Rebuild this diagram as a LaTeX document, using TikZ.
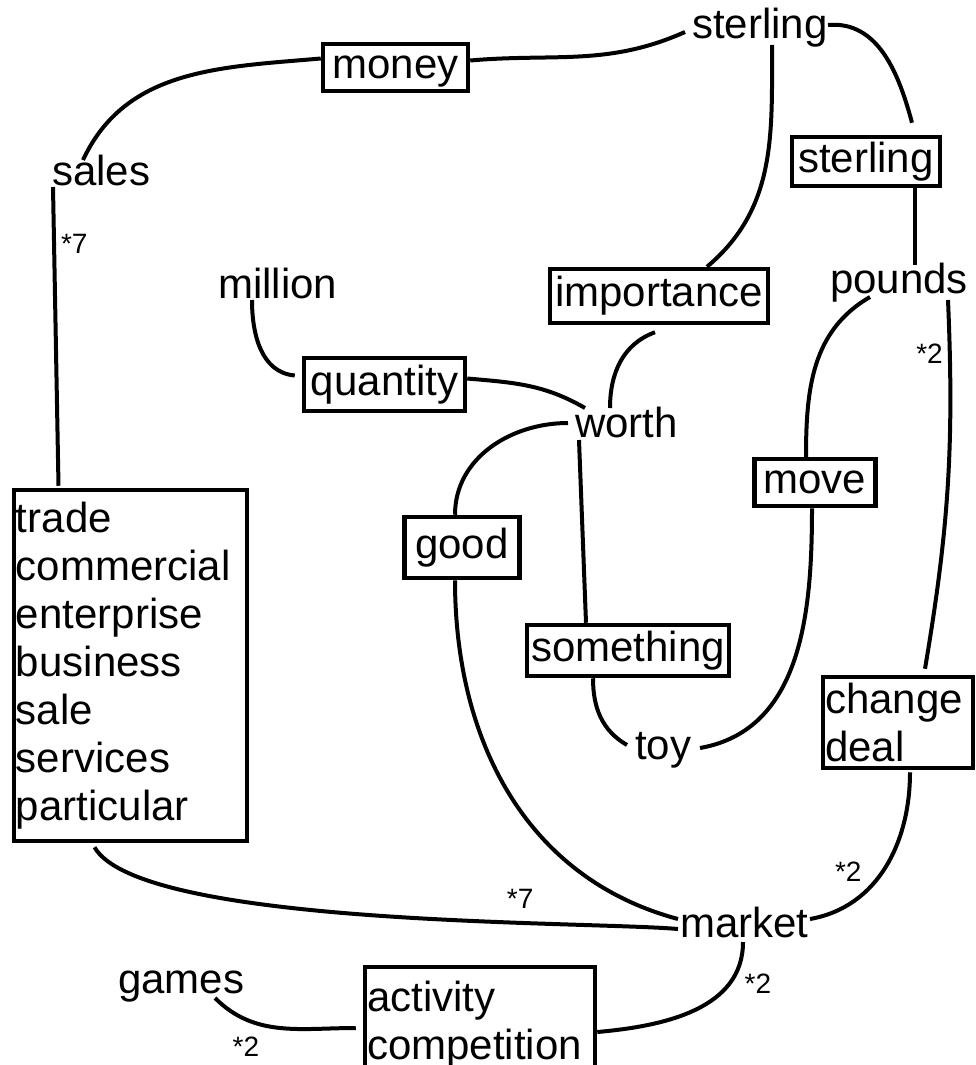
\documentclass[tikz,border=0pt]{standalone}
\usepackage{fontspec}
\setmainfont{Liberation Sans}

\begin{document}
\begin{tikzpicture}[x=1pt,y=-1pt,
		word/.style={font=\fontsize{42}{48}\selectfont, inner sep=0pt, anchor=base west},
		sense/.style={draw, line width=4.5pt, font=\fontsize{42}{48}\selectfont, inner xsep=2pt, inner ysep=0pt},
		single/.style={sense, text height=30pt, text depth=9pt},
		multi/.style={sense, align=left},
		link/.style={line width=4pt},
		count/.style={font=\fontsize{28}{30}\selectfont, inner sep=5pt}]
			\useasboundingbox (0,0) rectangle (976,1065);
			\clip (0,0) rectangle (976,1065);
			\node[word] (sterling) at (692,38) {sterling};
			\node[word] (sales) at (52,185) {sales};
			\node[word] (million) at (218,298) {million};
			\node[word] (pounds) at (830,293) {pounds};
			\node[word] (worth) at (575,437) {worth};
			\node[word] (toy) at (635,759) {toy};
			\node[word] (market) at (680,937) {market};
			\node[word] (games) at (118,993) {games};
			\node[single, minimum width=145pt, minimum height=47pt] (money) at (395.5,67.5) {money};
			\node[single, minimum width=148pt, minimum height=49pt] (sterlingbox) at (866,161.5) {sterling};
			\node[single, minimum width=218pt, minimum height=54pt] (importance) at (659,296) {importance};
			\node[single, minimum width=161pt, minimum height=53pt] (quantity) at (384.5,384.5) {quantity};
			\node[single, minimum width=115pt, minimum height=61pt] (good) at (462,547.5) {good};
			\node[single, minimum width=121pt, minimum height=47pt] (move) at (815,482.5) {move};
			\node[single, minimum width=202pt, minimum height=51pt] (something) at (628,650.5) {something};
			\node[multi, text width=146pt, minimum height=91pt] (change) at (898,722.5) {change\\deal};
			\node[multi, text width=229pt, minimum height=351pt] (trade) at (130.5,665.5) {trade\\commercial\\enterprise\\business\\sale\\services\\particular};
			\node[multi, text width=226pt, minimum height=116pt] (activity) at (480,1025) {activity\\competition};
			\path[link]
			([shift={(31,-25)}]sales.base west) edge[out=65,in=185] ([shift={(0,-9)}]money.west)
			([shift={(1,2)}]sales.base west) edge node[count,anchor=west,pos=0.19]{*7} ([shift={(-72,-2)}]trade.north)
			([shift={(0,-7)}]money.east) edge[out=5,in=204] ([shift={(-7,-6)}]sterling.base west)
			([shift={(80,7)}]sterling.base west) edge[out=-90,in=40] ([shift={(48,0)}]importance.north)
			([shift={(136,-13)}]sterling.base west) edge[out=5,in=105] ([shift={(46,-12)}]sterlingbox.north)
			([shift={(49,0)}]sterlingbox.south) edge ([shift={(85,-28)}]pounds.base west)
			([shift={(40,4)}]pounds.base west) edge[out=210,in=90] ([shift={(-9,0)}]move.north)
			([shift={(118,7)}]pounds.base west) edge[bend left=6] node[count,anchor=east,pos=0.13]{*2} ([shift={(27,-6)}]change.north)
			([shift={(-4,7)}]importance.south) edge[out=200,in=90] ([shift={(35,-29)}]worth.base west)
			([shift={(0,-6)}]quantity.east) edge[out=-5,in=150] ([shift={(10,-29)}]worth.base west)
			([shift={(34,2)}]million.base west) edge[out=-90,in=175] ([shift={(-7,-9)}]quantity.west)
			([shift={(-7,-14)}]worth.base west) edge[out=180,in=90] ([shift={(-7,0)}]good.north)
			([shift={(4,3)}]worth.base west) edge ([shift={(-42,0)}]something.north)
			([shift={(-35,0)}]something.south) edge[out=-90,in=150] ([shift={(-8,-14)}]toy.base west)
			([shift={(65,-11)}]toy.base west) edge[out=10,in=-90] ([shift={(-3,0)}]move.south)
			([shift={(-7,0)}]good.south) edge[out=-90,in=165] ([shift={(-2,-18)}]market.base west)
			([shift={(-36,4)}]trade.south) edge[out=-60,in=175,looseness=0.4] node[count,anchor=south,pos=0.7,yshift=7pt]{*7} ([shift={(-2,-8)}]market.base west)
			([shift={(12,2)}]change.south) edge[out=-90,in=10] node[count,anchor=south east,pos=0.65]{*2} ([shift={(130,-18)}]market.base west)
			([shift={(63,5)}]market.base west) edge[out=-90,in=5] node[count,anchor=west,pos=0.25,xshift=8pt]{*2} ([shift={(0,7)}]activity.east)
			([shift={(97,5)}]games.base west) edge[out=-45,in=180] node[count,anchor=north,pos=0.25,yshift=-10pt]{*2} ([shift={(-7,3)}]activity.west);
		\end{tikzpicture}
\end{document}
